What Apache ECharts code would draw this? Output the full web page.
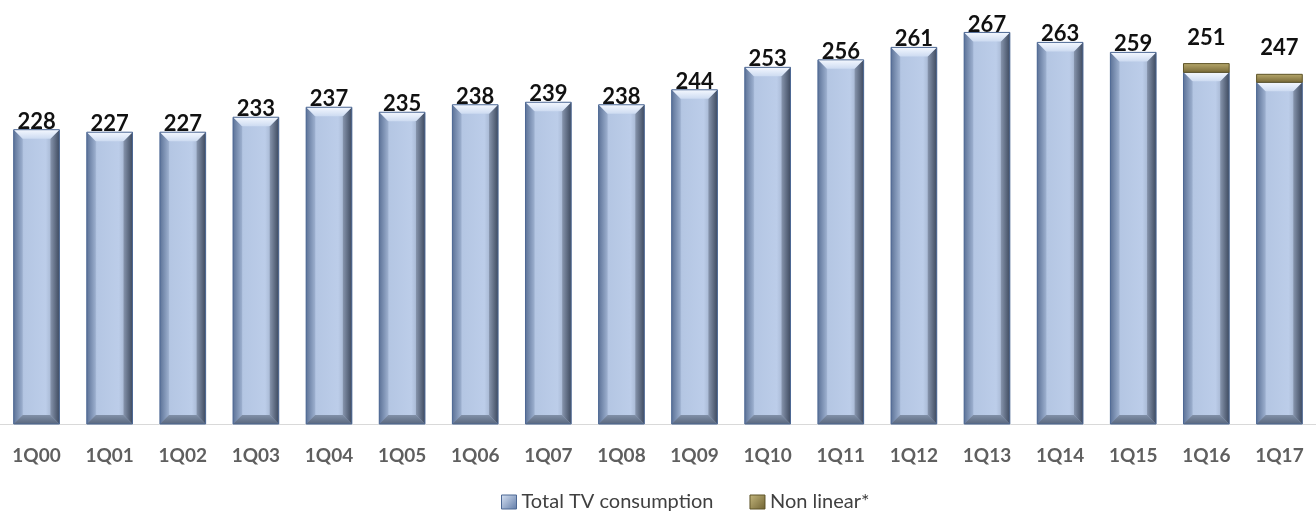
<!DOCTYPE html>
<html>
<head>
<meta charset="utf-8">
<script src="https://cdn.jsdelivr.net/npm/echarts@6/dist/echarts.min.js"></script>
<style>
  html, body { margin: 0; padding: 0; background: #ffffff; }
  #chart { width: 1316px; height: 511px; }
</style>
</head>
<body>
<div id="chart"></div>
<script>
// Quarterly TV consumption (minutes per day)
const categories = ['1Q00','1Q01','1Q02','1Q03','1Q04','1Q05','1Q06','1Q07','1Q08',
                    '1Q09','1Q10','1Q11','1Q12','1Q13','1Q14','1Q15','1Q16','1Q17'];
const totalTV = [228, 227, 227, 233, 237, 235, 238, 239, 238,
                 244, 253, 256, 261, 267, 263, 259, 251, 247];
const nonLinear = [0, 0, 0, 0, 0, 0, 0, 0, 0,
                   0, 0, 0, 0, 0, 0, 0, 3.5, 3.2];
const seriesNames = ['Total TV consumption', 'Non linear*'];

const Y_MIN = 110;
const Y_MAX = 280;
const BAR_RATIO = 0.625;
const BEVEL = 9;

const G = echarts.graphic;

function barGeom(api, lo, hi) {
  const i = api.value(0);
  const pTop = api.coord([i, hi]);
  const pBot = api.coord([i, lo]);
  const w = api.size([1, 0])[0] * BAR_RATIO;
  return { x0: pTop[0] - w / 2, x1: pTop[0] + w / 2, cx: pTop[0], yt: pTop[1], yb: pBot[1], w: w };
}

// Beveled blue column for the total
function renderTotal(params, api) {
  const v = api.value(1);
  const extra = api.value(2) || 0;
  const g = barGeom(api, Y_MIN, v);
  const d = BEVEL;
  const { x0, x1, yt, yb } = g;
  const children = [
    { type: 'rect', shape: { x: x0, y: yt, width: g.w, height: yb - yt },
      style: { fill: new G.LinearGradient(0, 0, 1, 0, [
        { offset: 0, color: '#6f83a8' }, { offset: 0.22, color: '#b4c6e3' },
        { offset: 0.7, color: '#bccde9' }, { offset: 1, color: '#8a9ab4' }]) } },
    { type: 'polygon', shape: { points: [[x0, yt], [x0 + d, yt + d], [x0 + d, yb - d], [x0, yb]] },
      style: { fill: new G.LinearGradient(0, 0, 1, 0, [
        { offset: 0, color: '#5d7398' }, { offset: 1, color: '#9db0cf' }]) } },
    { type: 'polygon', shape: { points: [[x1, yt], [x1 - d, yt + d], [x1 - d, yb - d], [x1, yb]] },
      style: { fill: new G.LinearGradient(0, 0, 1, 0, [
        { offset: 0, color: '#8795ad' }, { offset: 1, color: '#3f4b60' }]) } },
    { type: 'polygon', shape: { points: [[x0, yt], [x1, yt], [x1 - d, yt + d], [x0 + d, yt + d]] },
      style: { fill: new G.LinearGradient(0, 0, 0, 1, [
        { offset: 0, color: '#f4f8ff' }, { offset: 1, color: '#cddbf1' }]) } },
    { type: 'polygon', shape: { points: [[x0, yb], [x1, yb], [x1 - d, yb - d], [x0 + d, yb - d]] },
      style: { fill: new G.LinearGradient(0, 0, 0, 1, [
        { offset: 0, color: '#8190a8' }, { offset: 1, color: '#5a687e' }]) } },
    { type: 'rect', shape: { x: x0, y: yt, width: g.w, height: yb - yt },
      style: { fill: 'none', stroke: '#4d6894', lineWidth: 1 } }
  ];
  // value label; pushed above the stack when a non linear slice sits on top
  const labelY = extra > 0 ? api.coord([api.value(0), v + extra])[1] - 26 : yt - 8;
  children.push({
    type: 'text', z2: 100,
    style: { text: String(v), x: g.cx, y: labelY, align: 'center', verticalAlign: 'middle',
      fontSize: 22, fontWeight: 'bold', fontFamily: 'Lato', fill: '#111111' }
  });
  return { type: 'group', children: children };
}

// Olive slice stacked on top of the total
function renderNonLinear(params, api) {
  const base = api.value(1);
  const v = api.value(2);
  if (!v) return null;
  const g = barGeom(api, base, base + v);
  return {
    type: 'group',
    children: [
      { type: 'rect', shape: { x: g.x0, y: g.yt, width: g.w, height: g.yb - g.yt },
        style: { fill: new G.LinearGradient(0, 0, 0, 1, [
          { offset: 0, color: '#b8a96d' }, { offset: 1, color: '#756736' }]),
          stroke: '#5e5428', lineWidth: 1 } }
    ]
  };
}

const stackData = categories.map((c, i) => [i, totalTV[i], nonLinear[i]]);

const chart = echarts.init(document.getElementById('chart'), null, { renderer: 'canvas' });
chart.setOption({
  animation: false,
  backgroundColor: '#ffffff',
  grid: { left: 0, right: -11, top: 0, bottom: 87 },
  xAxis: {
    type: 'category',
    data: categories,
    axisLine: { show: true, lineStyle: { color: '#d9d9d9', width: 1 } },
    axisTick: { show: false },
    axisLabel: { color: '#5f5f5f', fontSize: 19, fontWeight: 'bold', fontFamily: 'Lato', margin: 22 }
  },
  yAxis: { type: 'value', min: Y_MIN, max: Y_MAX, show: false, splitLine: { show: false } },
  legend: {
    top: 487,
    left: 496,
    itemWidth: 15,
    itemHeight: 14,
    itemGap: 36,
    icon: 'rect',
    textStyle: { color: '#404040', fontSize: 20, fontFamily: 'Lato' },
    data: [
      { name: seriesNames[0], itemStyle: { color: new G.LinearGradient(0, 0, 1, 1, [
          { offset: 0, color: '#d9e4f5' }, { offset: 1, color: '#5f7aa6' }]), borderColor: '#4d6894', borderWidth: 1 } },
      { name: seriesNames[1], itemStyle: { color: new G.LinearGradient(0, 0, 1, 1, [
          { offset: 0, color: '#c5b87e' }, { offset: 1, color: '#6e6131' }]), borderColor: '#5e5428', borderWidth: 1 } }
    ]
  },
  series: [
    { name: seriesNames[0], type: 'custom', renderItem: renderTotal, data: stackData,
      encode: { x: 0, y: 1 }, itemStyle: { color: '#9fb4d8' } },
    { name: seriesNames[1], type: 'custom', renderItem: renderNonLinear, data: stackData,
      encode: { x: 0, y: 1 }, itemStyle: { color: '#9a8b4e' } }
  ]
});
</script>
</body>
</html>
